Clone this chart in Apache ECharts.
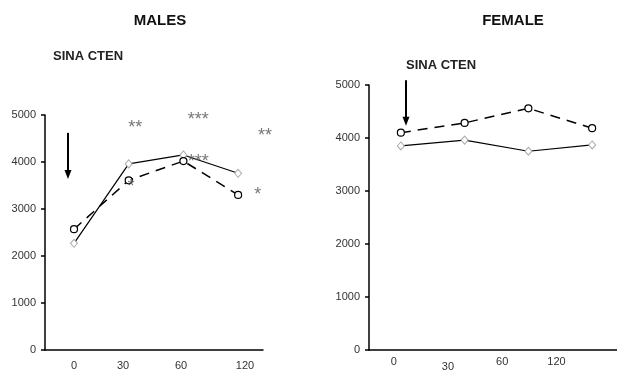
<!DOCTYPE html>
<html>
<head>
<meta charset="utf-8">
<script src="https://cdn.jsdelivr.net/npm/echarts@6/dist/echarts.min.js"></script>
<style>
  html, body { margin: 0; padding: 0; background: #fff; }
  #chart { width: 617px; height: 373px; }
</style>
</head>
<body>
<div id="chart"></div>
<script>
// time points (min) and tick labels
const timeLabels = ["0", "30", "60", "120"];
const idx = [0, 1, 2, 3];

// males
const maleSolid = [2270, 3960, 4150, 3760];
const maleDashed = [2570, 3610, 4020, 3300];
// females
const femaleSolid = [3850, 3960, 3750, 3870];
const femaleDashed = [4100, 4285, 4560, 4185];

// significance marks on the males panel: [x index, value, text]
const maleStars = [
  [1.12, 4830, "**"],
  [2.27, 5000, "***"],
  [2.27, 4110, "***"],
  [3.49, 4660, "**"],
  [3.36, 3400, "*"],
  [1.04, 3570, "*"]
];

// injection arrows: [x index, from value, to value]
const maleArrow = [-0.11, 4620, 3640];
const femaleArrow = [0.08, 5090, 4230];

const font = "Liberation Sans, Arial, sans-serif";
const black = "#000";

function pairs(vals) {
  return idx.map((i) => [i, vals[i]]);
}

var chart = echarts.init(document.getElementById("chart"));

const yAxisBase = {
  type: "value",
  min: 0,
  max: 5000,
  interval: 1000,
  axisLine: { show: true, onZero: false, lineStyle: { color: black, width: 1.5 } },
  axisTick: { show: true, length: 4, lineStyle: { color: black, width: 1.5 } },
  splitLine: { show: false },
  axisLabel: {
    fontSize: 11, color: "#333", fontFamily: font, margin: 9,
    formatter: (v) => String(v)
  }
};

const xDataBase = {
  type: "value",
  axisLine: { show: true, onZero: false, lineStyle: { color: black, width: 1.5 } },
  axisTick: { show: false },
  axisLabel: { show: false },
  splitLine: { show: false }
};

const xLabelBase = {
  type: "category",
  axisLine: { show: false },
  axisTick: { show: false },
  splitLine: { show: false },
  axisLabel: { fontSize: 11, color: "#333", fontFamily: font }
};

const solidStyle = {
  type: "line",
  symbol: "diamond",
  symbolSize: [7, 8],
  lineStyle: { color: black, width: 1.2 },
  itemStyle: { color: "#fff", borderColor: "#aaa", borderWidth: 1 },
  z: 3
};

const dashedStyle = {
  type: "line",
  symbol: "circle",
  symbolSize: 7,
  lineStyle: { color: black, width: 1.5, type: [10, 7] },
  itemStyle: { color: "#fff", borderColor: black, borderWidth: 1.2 },
  z: 4
};

// vertical arrow drawn through the axes' scales
function renderArrow(params, api) {
  const p1 = api.coord([api.value(0), api.value(1)]);
  const p2 = api.coord([api.value(0), api.value(2)]);
  const head = 9, half = 3.5;
  return {
    type: "group",
    children: [
      {
        type: "line",
        shape: { x1: p1[0], y1: p1[1], x2: p2[0], y2: p2[1] - head + 1 },
        style: { stroke: black, lineWidth: 2 }
      },
      {
        type: "polygon",
        shape: { points: [[p2[0] - half, p2[1] - head], [p2[0] + half, p2[1] - head], [p2[0], p2[1]]] },
        style: { fill: black }
      }
    ]
  };
}

const titleStyle = { fontSize: 15, fontWeight: "bold", color: "#111", fontFamily: font };
const noteStyle = { fontSize: 13, fontWeight: "bold", color: "#222", fontFamily: font };

var option = {
  animation: false,
  title: [
    { text: "MALES", left: 155, top: 8, textAlign: "center", textStyle: titleStyle },
    { text: "FEMALE", left: 508, top: 8, textAlign: "center", textStyle: titleStyle },
    { text: "SINA CTEN", left: 48, top: 45, textStyle: noteStyle },
    { text: "SINA CTEN", left: 401, top: 54, textStyle: noteStyle }
  ],
  grid: [
    { left: 45, top: 115, width: 218, height: 235 },
    { left: 369, top: 85, width: 250, height: 265 },
    { left: 41.5, top: 115, width: 228, height: 235 },
    { left: 366.6, top: 85, width: 217, height: 265 }
  ],
  xAxis: [
    Object.assign({}, xDataBase, { gridIndex: 0, min: -0.53, max: 3.455 }),
    Object.assign({}, xDataBase, { gridIndex: 1, min: -0.5, max: 3.39 }),
    Object.assign({}, xLabelBase, {
      gridIndex: 2,
      data: [
        { value: timeLabels[0], textStyle: { padding: [0, 0, 0, 8] } },
        { value: timeLabels[1], textStyle: { padding: [0, 8, 0, 0] } },
        { value: timeLabels[2], textStyle: { padding: [0, 6, 0, 0] } },
        { value: timeLabels[3], textStyle: { padding: [0, 0, 0, 8] } }
      ],
      axisLabel: Object.assign({}, xLabelBase.axisLabel, { margin: 10 })
    }),
    Object.assign({}, xLabelBase, {
      gridIndex: 3,
      data: [
        timeLabels[0],
        { value: timeLabels[1], textStyle: { padding: [5, 0, 0, 0] } },
        timeLabels[2],
        timeLabels[3]
      ],
      axisLabel: Object.assign({}, xLabelBase.axisLabel, { margin: 6 })
    })
  ],
  yAxis: [
    Object.assign({}, yAxisBase, { gridIndex: 0 }),
    Object.assign({}, yAxisBase, { gridIndex: 1 }),
    { type: "value", gridIndex: 2, show: false, min: 0, max: 5000 },
    { type: "value", gridIndex: 3, show: false, min: 0, max: 5000 }
  ],
  series: [
    Object.assign({}, solidStyle, { name: "males solid", xAxisIndex: 0, yAxisIndex: 0, data: pairs(maleSolid) }),
    Object.assign({}, dashedStyle, { name: "males dashed", xAxisIndex: 0, yAxisIndex: 0, data: pairs(maleDashed) }),
    Object.assign({}, solidStyle, { name: "female solid", xAxisIndex: 1, yAxisIndex: 1, data: pairs(femaleSolid) }),
    Object.assign({}, dashedStyle, { name: "female dashed", xAxisIndex: 1, yAxisIndex: 1, data: pairs(femaleDashed) }),
    {
      name: "stars",
      type: "scatter",
      xAxisIndex: 0,
      yAxisIndex: 0,
      clip: false,
      silent: true,
      symbolSize: 0,
      z: 5,
      data: maleStars.map((s) => ({ value: [s[0], s[1]], label: { formatter: s[2] } })),
      label: {
        show: true,
        position: "inside",
        fontSize: 18,
        color: "#555",
        fontFamily: font,
        offset: [0, 5]
      }
    },
    {
      name: "male arrow", type: "custom", xAxisIndex: 0, yAxisIndex: 0,
      silent: true, clip: false, renderItem: renderArrow,
      encode: { x: 0, y: [1, 2] }, data: [maleArrow]
    },
    {
      name: "female arrow", type: "custom", xAxisIndex: 1, yAxisIndex: 1,
      silent: true, clip: false, renderItem: renderArrow,
      encode: { x: 0, y: [1, 2] }, data: [femaleArrow]
    }
  ]
};

chart.setOption(option);
</script>
</body>
</html>
